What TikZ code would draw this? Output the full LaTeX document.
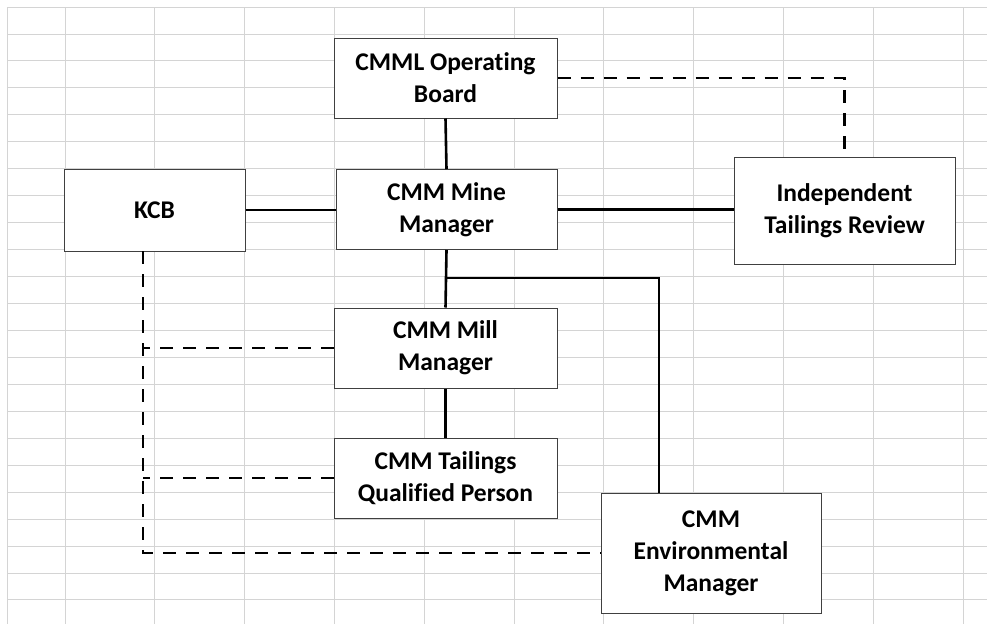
\documentclass[tikz,border=0pt]{standalone}
\usepackage{fontspec}
\setmainfont{Carlito}[Ligatures=NoCommon]
\begin{document}
\begin{tikzpicture}[x=1pt,y=-1pt,
  gridline/.style={draw=black!17,line width=0.9pt},
  orgbox/.style={draw=black!75,line width=1pt,fill=white,rectangle,align=center,
    font=\fontsize{25.5}{32}\selectfont\bfseries,inner sep=0pt},
  solidlink/.style={draw=black,line width=2.6pt},
  dashlink/.style={draw=black,line width=2.8pt,dash pattern=on 13pt off 10pt}]
\useasboundingbox (0,0) rectangle (987,624);
% spreadsheet grid
\foreach \gx in {7,65,154.8,244.6,334.4,424.2,514,603.8,693.6,783.4,873.2,963}
  \draw[gridline] (\gx,7) -- (\gx,624);
\foreach \k in {0,...,22}
  \draw[gridline] (7,7+\k*26.95) -- (987,7+\k*26.95);
% boxes
\node[orgbox,minimum width=223pt,minimum height=80pt] (board) at (445.5,78) {CMML Operating\\Board};
\node[orgbox,minimum width=181pt,minimum height=82pt] (kcb) at (154.5,210) {KCB};
\node[orgbox,minimum width=221pt,minimum height=80pt] (mine) at (446.5,209.5) {CMM Mine\\Manager};
\node[orgbox,minimum width=221pt,minimum height=107pt] (itr) at (844.5,210.5) {Independent\\Tailings Review};
\node[orgbox,minimum width=223pt,minimum height=80pt] (mill) at (445.5,348) {CMM Mill\\Manager};
\node[orgbox,minimum width=223pt,minimum height=80pt] (tqp) at (445.5,478) {CMM Tailings\\Qualified Person};
\node[orgbox,minimum width=220pt,minimum height=120pt] (env) at (711,553) {CMM\\Environmental\\Manager};
% helper coordinates
\coordinate (branch) at (446,278);
\coordinate (envin) at (659,493);
\coordinate (kcbout) at (143,251);
% solid links
\draw[solidlink] (board.south) -- (mine.north);
\draw[solidlink] (kcb.east) -- (kcb.east -| mine.west);
\draw[solidlink] (mine.east) -- (mine.east -| itr.west);
\draw[solidlink] (mine.south) -- (mill.north);
\draw[solidlink] (branch) -| (envin);
\draw[solidlink] (mill.south) -- (tqp.north);
% dashed links
\draw[dashlink] (board.east) -| (itr.north);
\draw[dashlink] (kcbout) |- (env.west);
\draw[dashlink] (mill.west) -- (mill.west -| kcbout);
\draw[dashlink] (tqp.west) -- (tqp.west -| kcbout);
\end{tikzpicture}
\end{document}
